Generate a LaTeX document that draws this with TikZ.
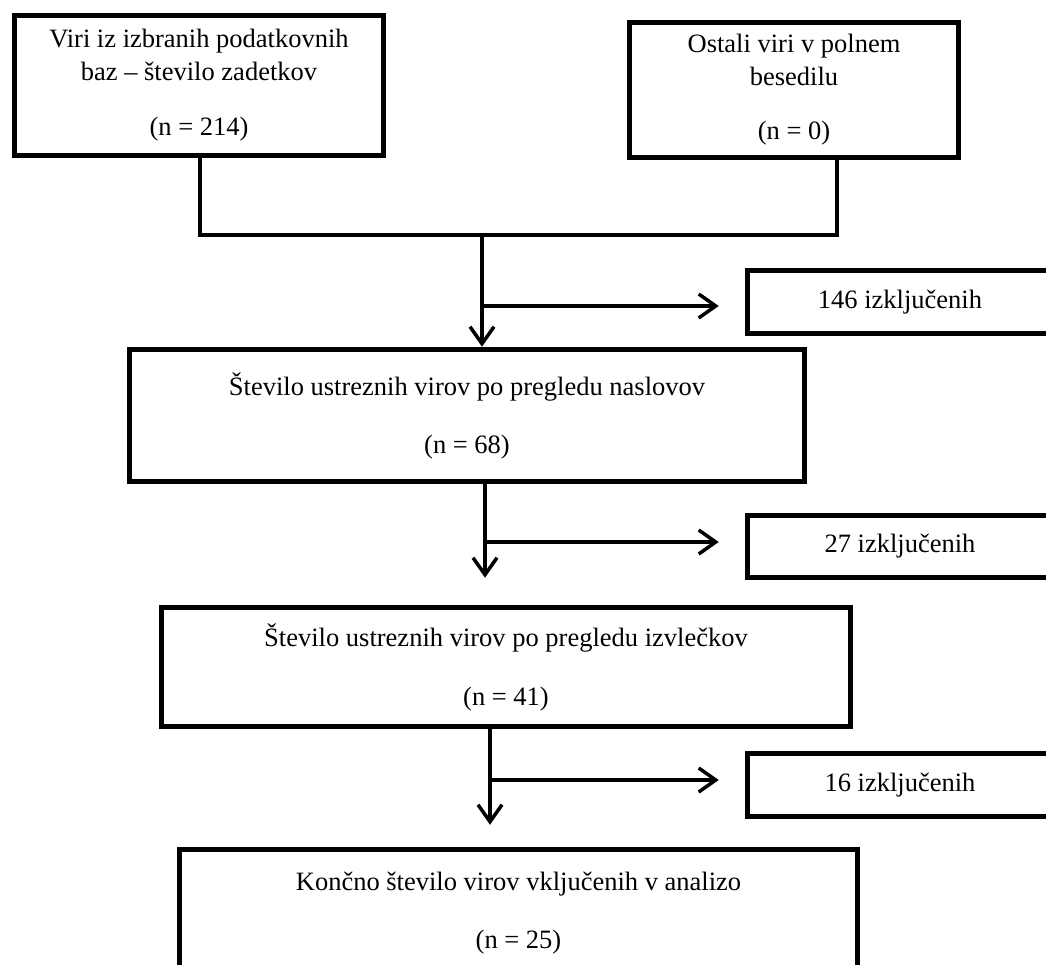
\documentclass[tikz,border=0pt]{standalone}
\usepackage{fontspec}
\setmainfont{Liberation Serif}
\usetikzlibrary{arrows.meta}
\tikzstyle{block} = [rectangle, draw, line width=5.5pt, align=center,
    inner sep=0pt, font=\fontsize{26.5}{33}\selectfont]
\tikzstyle{line} = [draw, line width=3.5pt]
\tikzstyle{arrow} = [draw, line width=3.5pt, -{Straight Barb[length=17pt,width=24pt]}]

\begin{document}
\begin{tikzpicture}[x=1pt, y=-1pt]
    \useasboundingbox (0,0) rectangle (1046,964);
    \clip (0,0) rectangle (1046,964);

    % Place source boxes
    \node [block, minimum width=369pt, minimum height=140pt] (viri) at (199,85.5)
        {Viri iz izbranih podatkovnih\\ baz – število zadetkov\\[22pt] (n = 214)};
    \node [block, minimum width=329pt, minimum height=135pt] (ostali) at (794,90)
        {Ostali viri v polnem\\ besedilu\\[21pt] (n = 0)};

    % Place screening boxes
    \node [block, minimum width=675pt, minimum height=132pt] (naslovi) at (467,415.5)
        {Število ustreznih virov po pregledu naslovov\\[25pt] (n = 68)};
    \node [block, minimum width=689pt, minimum height=119pt] (izvlecki) at (506,667)
        {Število ustreznih virov po pregledu izvlečkov\\[26pt] (n = 41)};
    \node [block, minimum width=678pt, minimum height=128pt] (koncno) at (518.5,913.5)
        {Končno število virov vključenih v analizo\\[25pt] (n = 25)};

    % Place excluded boxes
    \node [block, minimum width=305pt, minimum height=63pt] (izkl1) at (900,302) {146 izključenih};
    \node [block, minimum width=305pt, minimum height=62pt] (izkl2) at (900,546.5) {27 izključenih};
    \node [block, minimum width=305pt, minimum height=63pt] (izkl3) at (900,785) {16 izključenih};

    % Junction coordinates
    \coordinate (jl) at (200,235);
    \coordinate (jr) at (837,235);
    \coordinate (j1) at (482,235);
    \coordinate (b1) at (482,306);
    \coordinate (a2) at (485,0);
    \coordinate (b2) at (487,542);
    \coordinate (a3) at (490,0);
    \coordinate (b3) at (492,780);

    % Draw edges
    \path [line] (jl |- viri.south) -- (jl) -- (jr) -- (jr |- ostali.south);
    \path [arrow] (j1) -- (j1 |- naslovi.north);
    \path [arrow, shorten >=26pt] (b1) -- (b1 -| izkl1.west);
    \path [arrow, shorten >=27pt] (a2 |- naslovi.south) -- (a2 |- izvlecki.north);
    \path [arrow, shorten >=26pt] (b2) -- (b2 -| izkl2.west);
    \path [arrow, shorten >=22pt] (a3 |- izvlecki.south) -- (a3 |- koncno.north);
    \path [arrow, shorten >=26pt] (b3) -- (b3 -| izkl3.west);

\end{tikzpicture}
\end{document}
